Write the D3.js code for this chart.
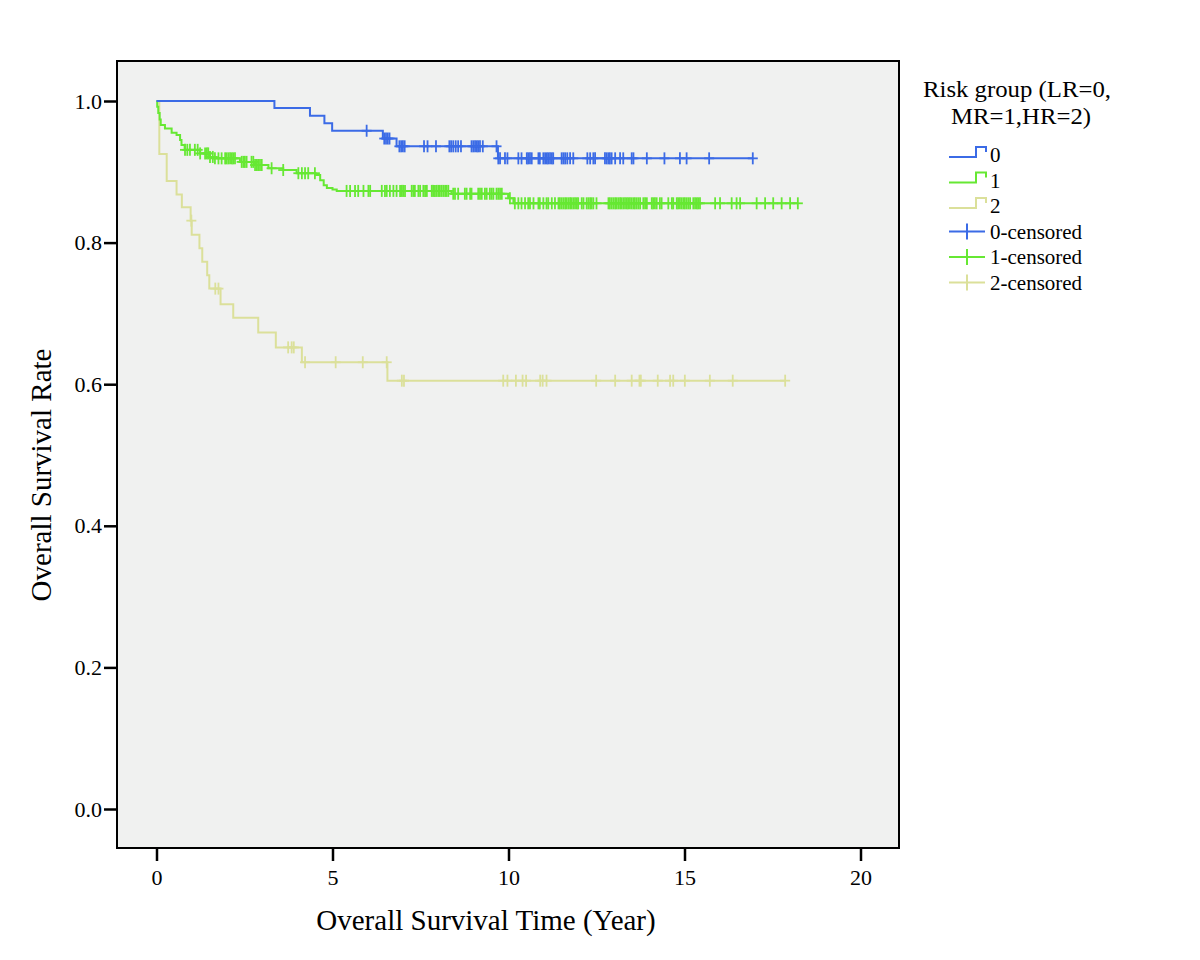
<!DOCTYPE html>
<html>
<head>
<meta charset="utf-8">
<script src="https://cdn.jsdelivr.net/npm/d3@7"></script>
<style>
  html, body { margin: 0; padding: 0; background: #fff; }
  svg text { font-family: "Liberation Serif", "Times New Roman", serif; fill: #000; }
</style>
</head>
<body>
<svg id="chart" width="1200" height="960"></svg>
<script>
// ---------------- DATA ----------------
const groupNames = ["0", "1", "2"];
const legendTitle = ["Risk group (LR=0,", "MR=1,HR=2)"];
const xTicks = [0, 5, 10, 15, 20];
const yTicks = [0.0, 0.2, 0.4, 0.6, 0.8, 1.0];
const xTitle = "Overall Survival Time (Year)";
const yTitle = "Overall Survival Rate";

// Group 0 (LR): event times and survival after each event
const g0EventTimes = [3.35, 4.36, 4.77, 4.99, 6.43, 6.82, 9.70];
const g0EventSurv  = [0.990, 0.979, 0.9685, 0.958, 0.947, 0.936, 0.919];
const g0Censored = [5.97, 6.47, 6.52, 6.57, 6.62, 6.90, 6.95, 7.00, 7.05, 7.60, 7.70, 7.94,
  8.32, 8.37, 8.43, 8.50, 8.57, 8.65, 8.95, 9.00, 9.05, 9.10, 9.14, 9.19, 9.27, 9.66,
  9.71, 9.76, 9.90, 9.97, 10.28, 10.37, 10.52, 10.56, 10.61, 10.66, 10.85, 10.89, 10.99,
  11.04, 11.09, 11.13, 11.18, 11.23, 11.27, 11.51, 11.56, 11.61, 11.67, 11.75, 11.84,
  12.24, 12.32, 12.41, 12.46, 12.74, 12.79, 12.84, 12.88, 12.93, 13.03, 13.17, 13.26,
  13.50, 13.55, 13.93, 14.43, 14.87, 15.06, 15.70, 16.94];

// Group 1 (MR)
const g1EventTimes = [0.02, 0.05, 0.09, 0.12, 0.24, 0.43, 0.57, 0.67, 0.71, 0.80, 1.24, 1.52, 1.62,
  2.37, 2.80, 3.18, 3.60, 3.98, 4.52, 4.65, 4.75, 4.84, 5.00, 5.12, 8.38, 9.99, 10.14];
const g1EventSurv  = [0.992, 0.983, 0.974, 0.966, 0.961, 0.955, 0.952, 0.945, 0.938, 0.931, 0.926, 0.921, 0.919,
  0.914, 0.9096, 0.905, 0.9025, 0.898, 0.8955, 0.888, 0.881, 0.877, 0.875, 0.873, 0.869, 0.8626, 0.8555];
const g1Censored = [0.81, 0.875, 0.95, 1.09, 1.17, 1.24, 1.38, 1.43, 1.47, 1.52, 1.60, 1.66, 1.76,
  1.85, 1.95, 1.99, 2.04, 2.09, 2.14, 2.18, 2.23, 2.42, 2.47, 2.51, 2.56, 2.70, 2.75, 2.80,
  2.85, 2.89, 2.94, 2.99, 3.27, 3.60, 4.03, 4.13, 4.22, 4.31, 4.50,
  5.40, 5.50, 5.64, 5.73, 5.88, 6.02, 6.07, 6.40, 6.49, 6.54, 6.63, 6.73, 6.82, 6.92, 6.97,
  7.01, 7.06, 7.25, 7.30, 7.34, 7.44, 7.49, 7.58, 7.63, 7.68, 7.82, 7.86, 7.91, 7.96, 8.01,
  8.05, 8.10, 8.15, 8.20, 8.24, 8.29, 8.43, 8.48, 8.57, 8.76, 8.81, 8.91, 8.95, 9.14, 9.19,
  9.24, 9.33, 9.38, 9.47, 9.52, 9.57, 9.66, 9.71, 9.76, 9.81, 10.04,
  10.18, 10.28, 10.37, 10.47, 10.56, 10.61, 10.71, 10.85, 10.89, 10.99, 11.08, 11.13, 11.23,
  11.32, 11.42, 11.46, 11.51, 11.56, 11.61, 11.65, 11.70, 11.75, 11.79, 11.84, 11.89, 11.94,
  11.98, 12.08, 12.13, 12.22, 12.27, 12.32, 12.36, 12.41, 12.50, 12.84, 12.88, 12.93, 12.98,
  13.03, 13.07, 13.12, 13.17, 13.21, 13.26, 13.31, 13.36, 13.40, 13.45, 13.50, 13.55, 13.59,
  13.64, 13.69, 13.74, 13.83, 13.88, 13.93, 14.07, 14.11, 14.16, 14.21, 14.30, 14.35, 14.54,
  14.64, 14.68, 14.78, 14.82, 14.87, 14.92, 14.97, 15.01, 15.06, 15.11, 15.16, 15.25, 15.30,
  15.35, 15.39, 15.44, 15.87, 16.01, 16.34, 16.48, 16.58, 17.05, 17.29, 17.52, 17.76, 18.00, 18.22];

// Group 2 (HR)
const g2EventTimes = [0.08, 0.29, 0.57, 0.72, 0.97, 1.00, 1.22, 1.30, 1.44, 1.50, 1.82, 2.18, 2.89, 3.39, 4.13, 6.56];
const g2EventSurv  = [0.925, 0.887, 0.868, 0.850, 0.831, 0.811, 0.792, 0.773, 0.754, 0.735, 0.713, 0.694, 0.673, 0.652, 0.631, 0.605];
const g2Censored = [0.99, 1.67, 1.76, 3.74, 3.84, 3.90, 4.22, 5.09, 5.86, 6.54, 6.97, 7.03,
  9.85, 9.97, 10.21, 10.40, 10.50, 10.90, 10.97, 11.08, 12.49, 13.03, 13.50, 13.72, 13.76,
  14.24, 14.59, 14.68, 15.01, 15.72, 16.37, 17.86];

const groupColors = ["#3b6be6", "#66e833", "#dbe09a"];
const legendLabels = ["0", "1", "2", "0-censored", "1-censored", "2-censored"];

// ---------------- LAYOUT ----------------
const svg = d3.select("#chart");
const frame = {left: 117, top: 61, right: 899, bottom: 848};
const x = d3.scaleLinear().domain([0, 20]).range([156.5, 860.5]);
const y = d3.scaleLinear().domain([0, 1]).range([809, 101]);

svg.append("rect").attr("x", 0).attr("y", 0).attr("width", 1200).attr("height", 960).attr("fill", "#fff");

svg.append("rect")
  .attr("x", frame.left).attr("y", frame.top)
  .attr("width", frame.right - frame.left).attr("height", frame.bottom - frame.top)
  .attr("fill", "#f0f1f0").attr("stroke", "#000").attr("stroke-width", 2);

// Axes
const xAxis = svg.append("g").attr("transform", `translate(0,${frame.bottom})`)
  .call(d3.axisBottom(x).tickValues(xTicks).tickFormat(d3.format("d")).tickSize(13).tickSizeOuter(0).tickPadding(8));
xAxis.select(".domain").remove();
xAxis.selectAll(".tick line").attr("stroke", "#000").attr("stroke-width", 2.5);
xAxis.selectAll(".tick text").attr("font-size", 22).attr("font-family", "Liberation Serif").attr("fill", "#000");

const yAxis = svg.append("g").attr("transform", `translate(${frame.left},0)`)
  .call(d3.axisLeft(y).tickValues(yTicks).tickFormat(d3.format(".1f")).tickSize(13).tickSizeOuter(0).tickPadding(2));
yAxis.select(".domain").remove();
yAxis.selectAll(".tick line").attr("stroke", "#000").attr("stroke-width", 2.5);
yAxis.selectAll(".tick text").attr("font-size", 22).attr("font-family", "Liberation Serif").attr("fill", "#000");

// Axis titles
svg.append("text").attr("x", 486).attr("y", 930).attr("text-anchor", "middle")
  .attr("font-size", 29).text(xTitle);
svg.append("text").attr("transform", "translate(51,475) rotate(-90)").attr("text-anchor", "middle")
  .attr("font-size", 29).text(yTitle);

// Curves
const groups = [
  {times: g0EventTimes, surv: g0EventSurv, cens: g0Censored},
  {times: g1EventTimes, surv: g1EventSurv, cens: g1Censored},
  {times: g2EventTimes, surv: g2EventSurv, cens: g2Censored}
];

function survAt(g, t) {
  let s = 1;
  for (let i = 0; i < g.times.length; i++) { if (g.times[i] <= t) s = g.surv[i]; }
  return s;
}

const line = d3.line().x(d => x(d[0])).y(d => y(d[1])).curve(d3.curveStepAfter);
const plot = svg.append("g");

[2, 1, 0].forEach(gi => {
  const g = groups[gi];
  const end = d3.max(g.cens.concat(g.times));
  const pts = [[0, 1]].concat(g.times.map((t, i) => [t, g.surv[i]]));
  pts.push([end, survAt(g, end)]);
  plot.append("path").attr("d", line(pts)).attr("fill", "none")
    .attr("stroke", groupColors[gi]).attr("stroke-width", 2);
  const cg = plot.append("g").attr("stroke", groupColors[gi]).attr("stroke-width", 1.8);
  g.cens.forEach(t => {
    const cx = x(t), cy = y(survAt(g, t));
    cg.append("line").attr("x1", cx).attr("x2", cx).attr("y1", cy - 6).attr("y2", cy + 6);
    cg.append("line").attr("x1", cx - 5).attr("x2", cx + 5).attr("y1", cy).attr("y2", cy);
  });
});

// Legend
const lg = svg.append("g");
lg.append("text").attr("x", 1017).attr("y", 97).attr("text-anchor", "middle").attr("font-size", 23)
  .attr("textLength", 188).attr("lengthAdjust", "spacingAndGlyphs").text(legendTitle[0]);
lg.append("text").attr("x", 1021).attr("y", 124).attr("text-anchor", "middle").attr("font-size", 23)
  .attr("textLength", 140).attr("lengthAdjust", "spacingAndGlyphs").text(legendTitle[1]);

const legendY = [155, 180.5, 206, 231.5, 257, 282.5];
legendLabels.forEach((lab, i) => {
  const cy = legendY[i];
  const col = groupColors[i % 3];
  if (i < 3) {
    lg.append("path").attr("d", `M949,${cy + 2}H976V${cy - 8}H986V${cy - 3}`)
      .attr("fill", "none").attr("stroke", col).attr("stroke-width", 2);
  } else {
    lg.append("line").attr("x1", 949).attr("x2", 985).attr("y1", cy).attr("y2", cy).attr("stroke", col).attr("stroke-width", 2);
    lg.append("line").attr("x1", 967).attr("x2", 967).attr("y1", cy - 8).attr("y2", cy + 8).attr("stroke", col).attr("stroke-width", 2);
  }
  lg.append("text").attr("x", 990).attr("y", cy + 7).attr("font-size", 21).text(lab);
});
</script>
</body>
</html>
